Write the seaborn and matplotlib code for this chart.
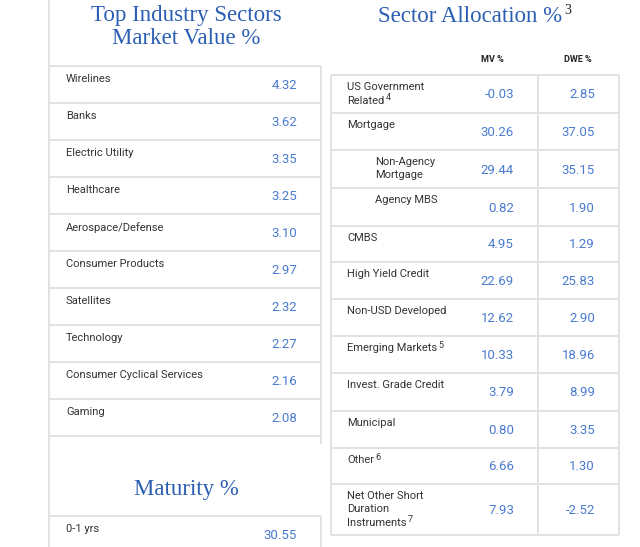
import matplotlib
matplotlib.use("Agg")
import matplotlib.pyplot as plt
import seaborn as sns

# --- data ---
industry = ["Wirelines", "Banks", "Electric Utility", "Healthcare", "Aerospace/Defense",
            "Consumer Products", "Satellites", "Technology", "Consumer Cyclical Services", "Gaming"]
industry_mv = [4.32, 3.62, 3.35, 3.25, 3.10, 2.97, 2.32, 2.27, 2.16, 2.08]

maturity = ["0-1 yrs"]
maturity_mv = [30.55]

sectors = ["US Government\nRelated", "Mortgage", "Non-Agency\nMortgage", "Agency MBS", "CMBS",
           "High Yield Credit", "Non-USD Developed", "Emerging Markets", "Invest. Grade Credit",
           "Municipal", "Other", "Net Other Short\nDuration\nInstruments"]
sector_notes = ["4", "", "", "", "", "", "", "5", "", "", "6", "7"]
sub_sector = [False, False, True, True, False, False, False, False, False, False, False, False]
sector_mv = [-0.03, 30.26, 29.44, 0.82, 4.95, 22.69, 12.62, 10.33, 3.79, 0.80, 6.66, 7.93]
sector_dwe = [2.85, 37.05, 35.15, 1.90, 1.29, 25.83, 2.90, 18.96, 8.99, 3.35, 1.30, -2.52]

sns.set_style("white")
plt.rcParams["font.family"] = ["Roboto", "DejaVu Sans"]

LINE = "#e2e2e2"
LABEL = "#333333"
VALUE = "#4a7bd0"
TITLE = "#2c5fb3"
SERIF = ["Liberation Serif", "DejaVu Serif"]

fig = plt.figure(figsize=(6.4, 5.47), dpi=100)
ax = fig.add_axes([0, 0, 1, 1])
ax.set_xlim(0, 640)
ax.set_ylim(547, 0)
ax.axis("off")
renderer = fig.canvas.get_renderer()
inv = ax.transData.inverted()

# ---- left panel ----
ax.vlines(49, 0, 547, color=LINE, lw=1.4)
ax.text(186, 16, "Top Industry Sectors", ha="center", va="center", fontsize=16.5,
        color=TITLE, family=SERIF)
ax.text(186, 39, "Market Value %", ha="center", va="center", fontsize=16.5,
        color=TITLE, family=SERIF)

row_h = 37
top0 = 66
for i, (name, v) in enumerate(zip(industry, industry_mv)):
    y = top0 + i * row_h
    ax.hlines(y, 49, 321, color=LINE, lw=1.4)
    ax.text(66, y + 8, name, ha="left", va="top", fontsize=8, color=LABEL)
    ax.text(297, y + row_h / 2 + 1, f"{v:.2f}", ha="right", va="center",
            fontsize=9.5, color=VALUE)
bottom = top0 + len(industry) * row_h
ax.hlines(bottom, 49, 321, color=LINE, lw=1.4)
ax.vlines(321, top0, bottom + 8, color=LINE, lw=1.4)

ax.text(186, 489, "Maturity %", ha="center", va="center", fontsize=16.5,
        color=TITLE, family=SERIF)
mtop = 516
for i, (name, v) in enumerate(zip(maturity, maturity_mv)):
    y = mtop + i * row_h
    ax.hlines(y, 49, 321, color=LINE, lw=1.4)
    ax.text(66, y + 8, name, ha="left", va="top", fontsize=8, color=LABEL)
    ax.text(297, y + row_h / 2 + 1, f"{v:.2f}", ha="right", va="center",
            fontsize=9.5, color=VALUE)
ax.vlines(321, mtop, 547, color=LINE, lw=1.4)

# ---- right panel ----
ax.text(470, 16, "Sector Allocation %", ha="center", va="center", fontsize=16.5,
        color=TITLE, family=SERIF)
ax.text(564, 10, "3", ha="left", va="center", fontsize=10, color="#222222", family=SERIF)
ax.text(492, 59, "MV %", ha="center", va="center", fontsize=6.5, color="#222222",
        fontweight="bold")
ax.text(578, 59, "DWE %", ha="center", va="center", fontsize=6.5, color="#222222",
        fontweight="bold")

row_tops = [75, 113, 150, 188, 226, 262, 299, 336, 373, 411, 448, 484, 535]
xl, xc, xr = 331, 538, 619
for i, name in enumerate(sectors):
    y0, y1 = row_tops[i], row_tops[i + 1]
    ax.hlines(y0, xl, xr, color=LINE, lw=1.4)
    x = 375 if sub_sector[i] else 347
    for k, line in enumerate(name.split("\n")):
        t = ax.text(x, y0 + 7 + k * 13.5, line, ha="left", va="top", fontsize=8,
                    color=LABEL)
    if sector_notes[i]:
        # superscript after the last line of the label
        bb = t.get_window_extent(renderer)
        x_end, y_top = inv.transform((bb.x1, bb.y1))
        ax.text(x_end + 1.5, y_top + 2, sector_notes[i], ha="left", va="center",
                fontsize=6.5, color=LABEL)
    yc = (y0 + y1) / 2 + 1
    ax.text(514, yc, f"{sector_mv[i]:.2f}", ha="right", va="center", fontsize=9.5,
            color=VALUE)
    ax.text(595, yc, f"{sector_dwe[i]:.2f}", ha="right", va="center", fontsize=9.5,
            color=VALUE)
ax.hlines(row_tops[-1], xl, xr, color=LINE, lw=1.4)
for x in (xl, xc, xr):
    ax.vlines(x, row_tops[0], row_tops[-1], color=LINE, lw=1.4)

fig.savefig("out.png", dpi=100, facecolor="white")
